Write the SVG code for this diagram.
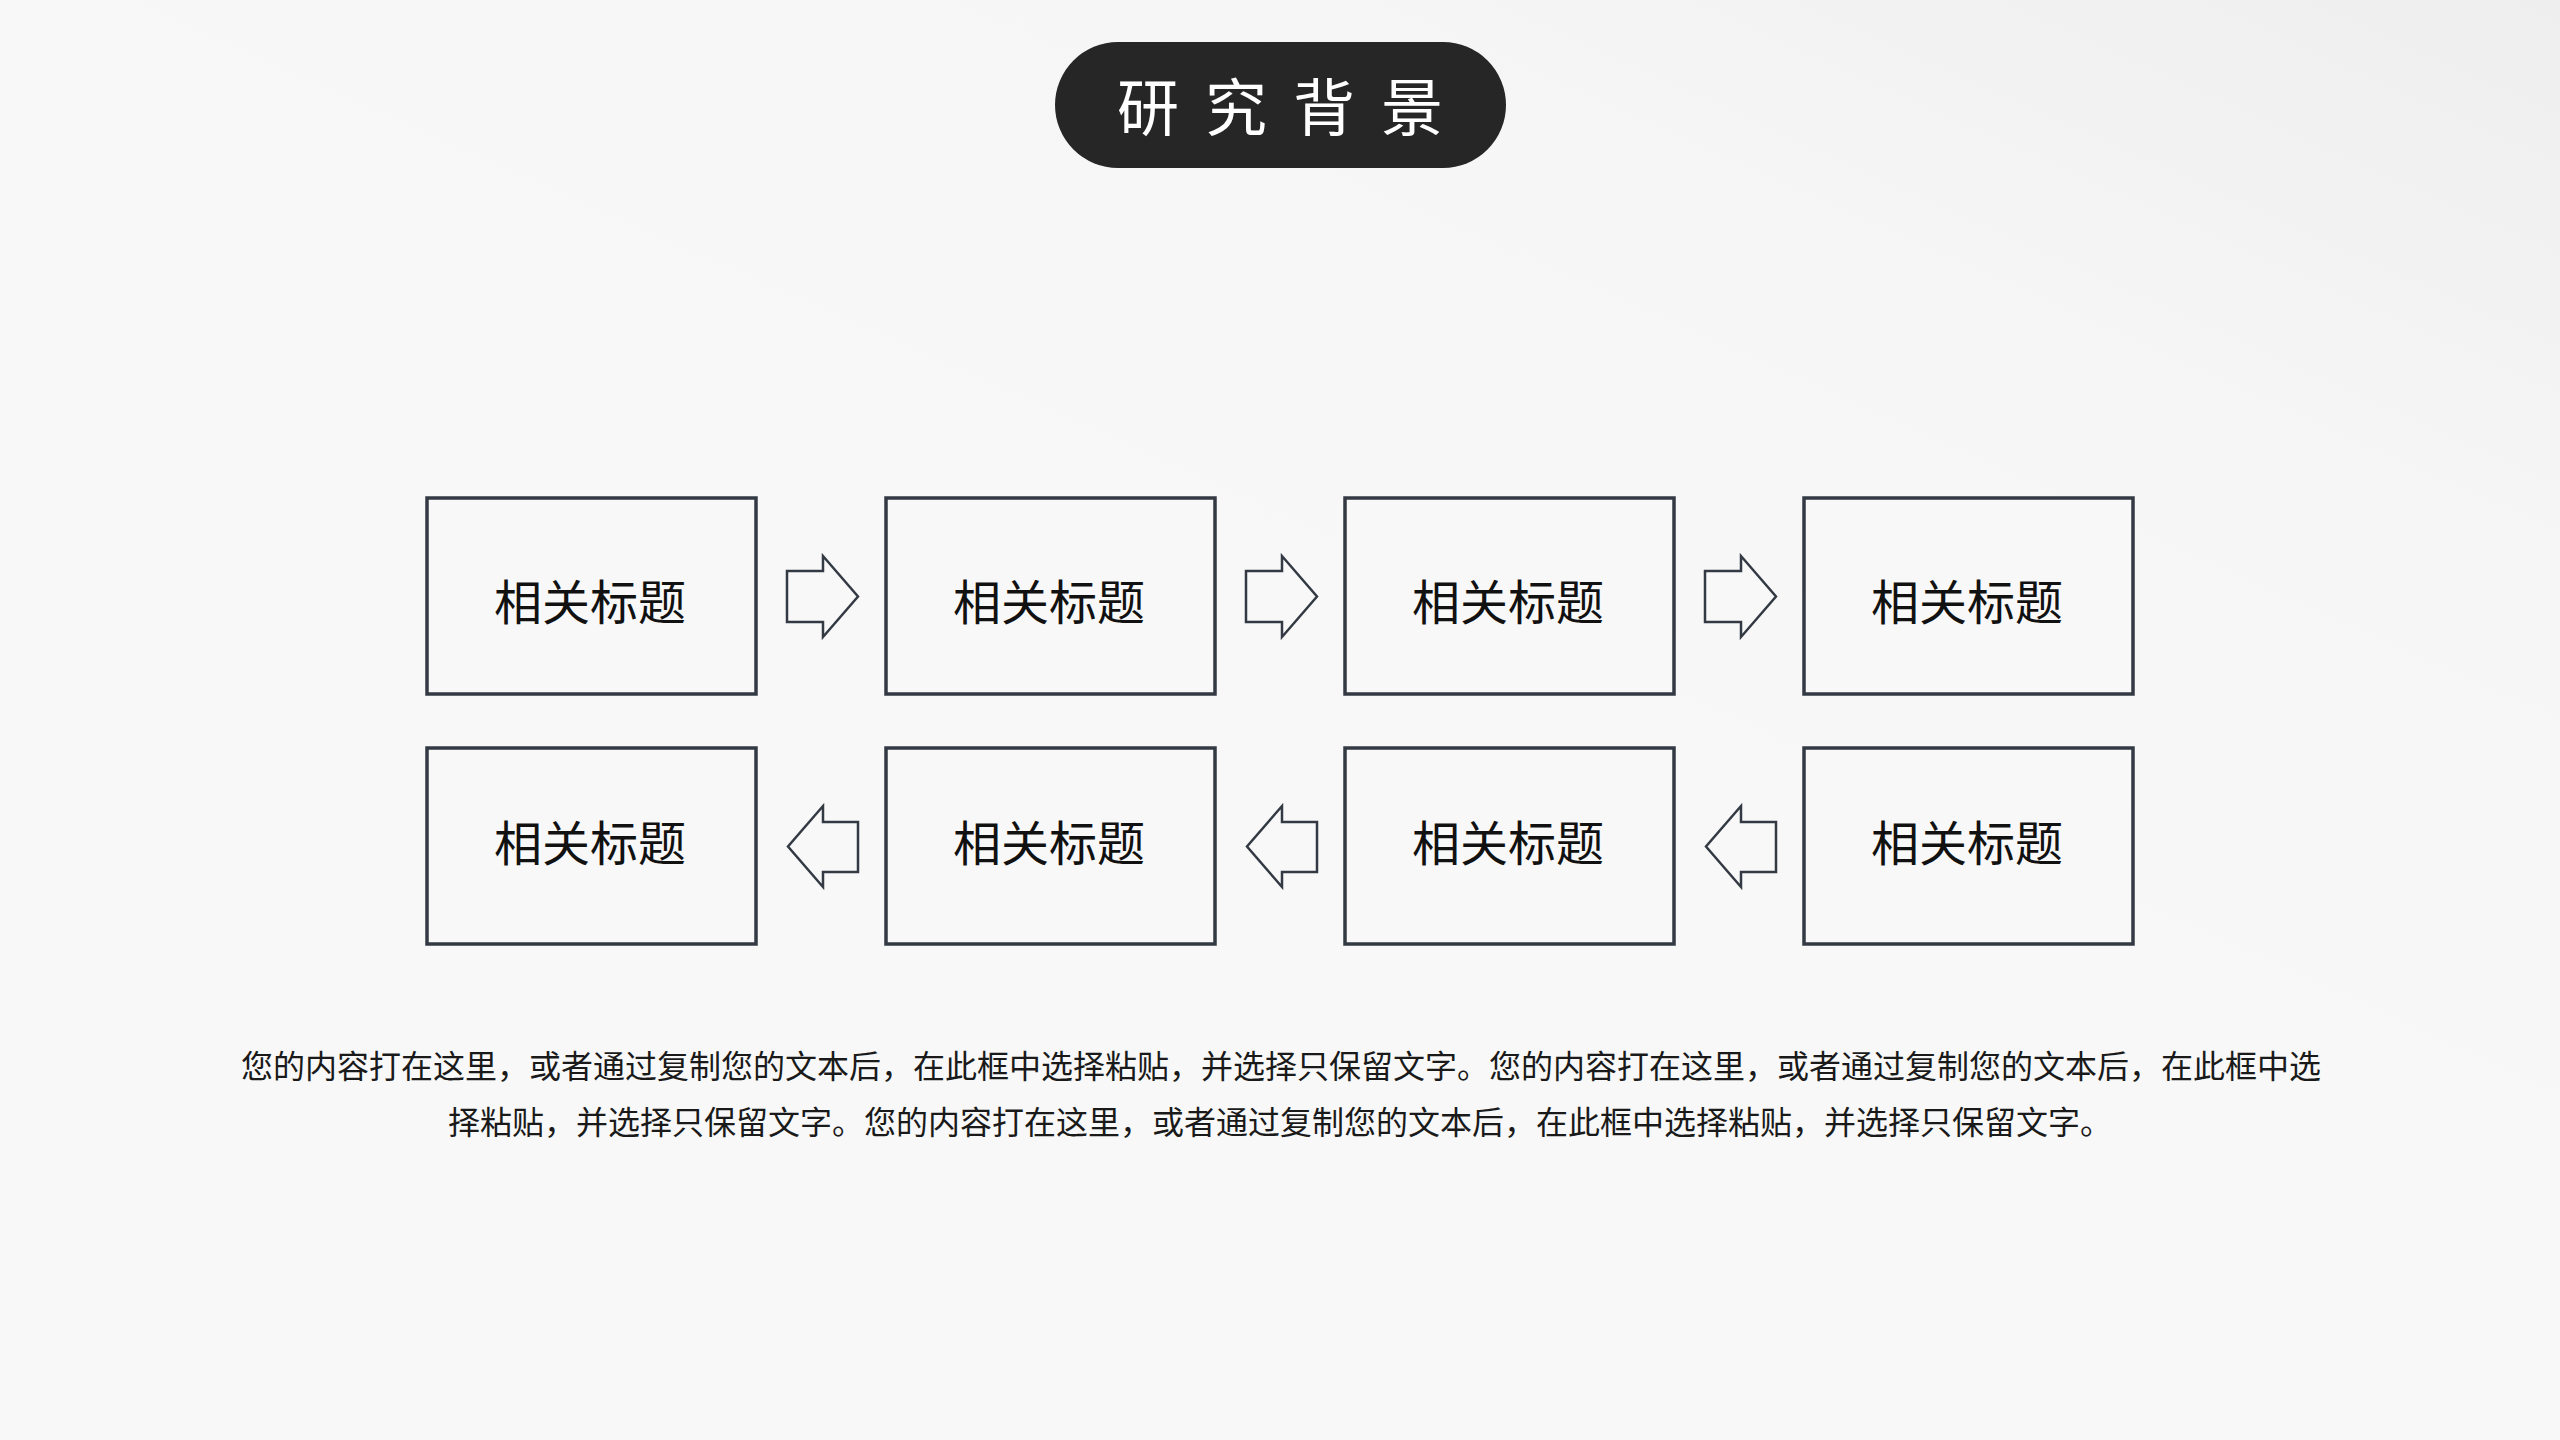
<svg xmlns="http://www.w3.org/2000/svg" width="2560" height="1440" viewBox="0 0 2560 1440">
<style>
.box{fill:#f8f8f8;stroke:#333a44;stroke-width:3.5}
.arr{fill:#f8f8f8;stroke:#333a44;stroke-width:2.5;stroke-linejoin:miter}
.lbl{font-family:"Noto Sans CJK SC","Noto Sans",sans-serif;font-size:48px;fill:#111111;text-anchor:middle;dominant-baseline:central}
.para{font-family:"Noto Sans CJK SC","Noto Sans",sans-serif;font-size:32px;fill:#1a1a1a;text-anchor:middle;dominant-baseline:central}
</style>
<defs>
<linearGradient id="bg" x1="1" y1="0" x2="0.6" y2="0.5">
<stop offset="0" stop-color="#eeeeee"/>
<stop offset="0.5" stop-color="#f6f6f6"/>
<stop offset="1" stop-color="#f8f8f8"/>
</linearGradient>
<polygon id="ra" points="787,571 823,571 823,556 858,596.5 823,637 823,622 787,622"/>
<polygon id="la" points="858,822 823,822 823,806 788,846.5 823,887 823,872 858,872"/>
</defs>
<rect width="2560" height="1440" fill="url(#bg)"/>
<g id="title">
<rect x="1055" y="42" width="451" height="126" rx="63" fill="#262626"/>
<text x="1293" y="104" font-family="Noto Sans CJK SC,Noto Sans,sans-serif" font-size="62" fill="#ffffff" text-anchor="middle" dominant-baseline="central" letter-spacing="26">研究背景</text>
</g>
<g id="node1"><rect class="box" x="427" y="498" width="329" height="196"/><text class="lbl" x="590" y="599">相关标题</text></g>
<g id="node2"><rect class="box" x="886" y="498" width="329" height="196"/><text class="lbl" x="1049" y="599">相关标题</text></g>
<g id="node3"><rect class="box" x="1345" y="498" width="329" height="196"/><text class="lbl" x="1508" y="599">相关标题</text></g>
<g id="node4"><rect class="box" x="1804" y="498" width="329" height="196"/><text class="lbl" x="1967" y="599">相关标题</text></g>
<g id="node5"><rect class="box" x="427" y="748" width="329" height="196"/><text class="lbl" x="590" y="840">相关标题</text></g>
<g id="node6"><rect class="box" x="886" y="748" width="329" height="196"/><text class="lbl" x="1049" y="840">相关标题</text></g>
<g id="node7"><rect class="box" x="1345" y="748" width="329" height="196"/><text class="lbl" x="1508" y="840">相关标题</text></g>
<g id="node8"><rect class="box" x="1804" y="748" width="329" height="196"/><text class="lbl" x="1967" y="840">相关标题</text></g>
<g id="connectors">
<use href="#ra" class="arr"/>
<use href="#ra" class="arr" transform="translate(459 0)"/>
<use href="#ra" class="arr" transform="translate(918 0)"/>
<use href="#la" class="arr"/>
<use href="#la" class="arr" transform="translate(459 0)"/>
<use href="#la" class="arr" transform="translate(918 0)"/>
</g>
<g id="description">
<text class="para" x="1281" y="1064">您的内容打在这里，或者通过复制您的文本后，在此框中选择粘贴，并选择只保留文字。您的内容打在这里，或者通过复制您的文本后，在此框中选</text>
<text class="para" x="1280" y="1120">择粘贴，并选择只保留文字。您的内容打在这里，或者通过复制您的文本后，在此框中选择粘贴，并选择只保留文字。</text>
</g>
</svg>
